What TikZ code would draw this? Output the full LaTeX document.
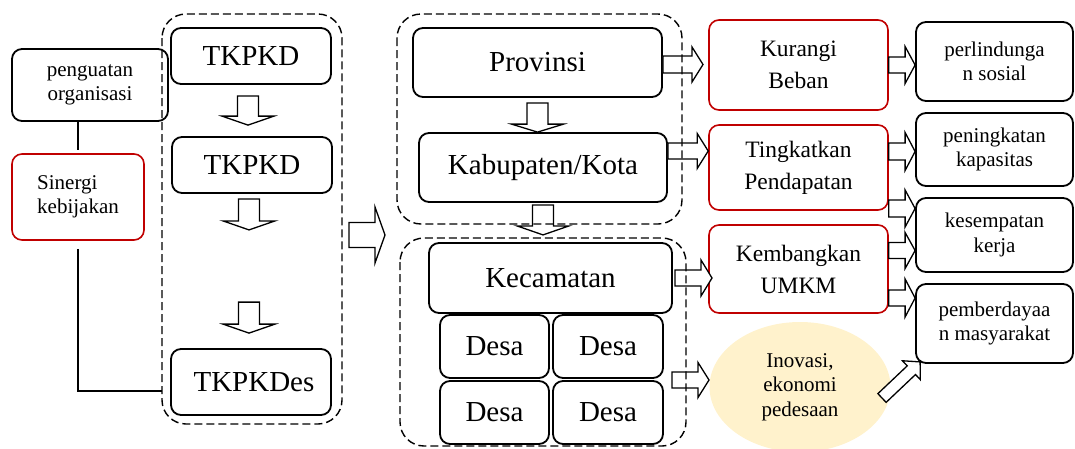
\documentclass[tikz,border=0pt]{standalone}
\usepackage{fontspec}
\setmainfont{Liberation Serif}
\usepackage{tikz}
\usetikzlibrary{calc, positioning, shapes.geometric}
\definecolor{kred}{RGB}{192,0,0}
\definecolor{kyel}{RGB}{255,242,204}

\newcommand{\bigf}{\fontsize{29}{34}\selectfont}
\newcommand{\midf}{\fontsize{23.5}{32}\selectfont}
\newcommand{\smf}{\fontsize{21}{24.5}\selectfont}

% outlined block arrow: start, end, shaft half width, head half width, head length
\newcommand{\fatarr}[5]{%
  \draw[blk] let \p1=#1, \p2=#2, \n1={atan2(\y2-\y1,\x2-\x1)}, \n2={veclen(\x2-\x1,\y2-\y1)} in
    ($(\p1)+(\n1+90:#3)$) -- ($(\p1)+(\n1:\n2-#5)+(\n1+90:#3)$)
    -- ($(\p1)+(\n1:\n2-#5)+(\n1+90:#4)$) -- (\p2)
    -- ($(\p1)+(\n1:\n2-#5)+(\n1-90:#4)$) -- ($(\p1)+(\n1:\n2-#5)+(\n1-90:#3)$)
    -- ($(\p1)+(\n1-90:#3)$) -- cycle;}

\begin{document}
\begin{tikzpicture}[x=1pt,y=-1pt]
  \tikzstyle{box}=[draw, rounded corners=10pt, line width=1.8pt, align=center, inner sep=0pt]
  \tikzstyle{redbox}=[box, draw=kred, line width=1.6pt]
  \tikzstyle{grp}=[draw, dash pattern=on 8pt off 4pt, rounded corners=24pt, line width=1.4pt]
  \tikzstyle{blk}=[draw, fill=white, line width=1.3pt, line join=miter]

  \useasboundingbox (0,0) rectangle (1075,448);

  % left column
  \node[box, font=\smf, minimum width=156pt, minimum height=72pt] (org) at (90,85) {penguatan\\organisasi};
  \node[redbox, font=\smf, align=left, minimum width=132pt, minimum height=86pt] (sin) at (78,197) {Sinergi\\kebijakan};

  \node[box, font=\bigf, minimum width=160pt, minimum height=56pt] (tk1) at (251,56) {TKPKD};
  \node[box, font=\bigf, minimum width=160pt, minimum height=56pt] (tk2) at (252,165) {TKPKD};
  \node[box, font=\bigf, minimum width=160pt, minimum height=66pt] (tkd) at (251,382) {\hspace{6pt}TKPKDes};

  % middle column
  \node[box, font=\bigf, minimum width=249pt, minimum height=69pt] (prov) at (537.5,62.5) {Provinsi};
  \node[box, font=\bigf, minimum width=248pt, minimum height=69pt] (kab) at (543,167.5) {Kabupaten/Kota};
  \node[box, font=\bigf, minimum width=243pt, minimum height=70pt] (kec) at (550.5,278) {Kecamatan};
  \node[box, font=\bigf, minimum width=109pt, minimum height=63pt] (d1) at (494.5,346.5) {Desa};
  \node[box, font=\bigf, minimum width=110pt, minimum height=63pt] (d2) at (608,346.5) {Desa};
  \node[box, font=\bigf, minimum width=109pt, minimum height=63pt] (d3) at (494.5,412.5) {Desa};
  \node[box, font=\bigf, minimum width=110pt, minimum height=63pt] (d4) at (608,412.5) {Desa};

  % programs
  \node[redbox, font=\midf, minimum width=179pt, minimum height=90pt] (kur) at (798.5,65) {Kurangi\\Beban};
  \node[redbox, font=\midf, minimum width=179pt, minimum height=85pt] (tin) at (798.5,167.5) {Tingkatkan\\Pendapatan};
  \node[redbox, font=\midf, minimum width=179pt, minimum height=88pt] (kem) at (798.5,269) {Kembangkan\\UMKM};
  \node[ellipse, fill=kyel, font=\smf, minimum width=181pt, minimum height=130pt, align=center, inner sep=0pt] (ino) at (800,387) {Inovasi,\\ekonomi\\pedesaan};

  % outcomes
  \node[box, font=\smf, minimum width=157pt, minimum height=79pt] (per) at (994.5,61.5) {perlindunga\\n sosial};
  \node[box, font=\smf, minimum width=157pt, minimum height=73pt] (pen) at (994.5,149.5) {peningkatan\\kapasitas};
  \node[box, font=\smf, minimum width=157pt, minimum height=74pt] (kes) at (994.5,235) {kesempatan\\kerja};
  \node[box, font=\smf, minimum width=157pt, minimum height=79pt] (pem) at (994.5,323.5) {pemberdayaa\\n masyarakat};

  % plain connectors
  \coordinate (jn) at (162,391);
  \draw[line width=1.5pt] (sin.north |- org.south) -- ([yshift=3pt]sin.north);
  \draw[line width=1.5pt] ([yshift=-8pt]sin.south) |- (jn);

  % block arrows
  \fatarr{([xshift=-3pt,yshift=-11pt]tk1.south)}{([xshift=-4pt,yshift=11pt]tk2.north)}{10.5pt}{26pt}{9pt}
  \fatarr{([xshift=-3pt,yshift=-5pt]tk2.south)}{([xshift=-3pt,yshift=-36pt]tk2.south)}{10.5pt}{26pt}{9pt}
  \fatarr{([xshift=-2pt,yshift=46pt]tkd.north)}{([xshift=-2pt,yshift=15pt]tkd.north)}{10.5pt}{26pt}{9pt}
  \fatarr{([yshift=-5pt]prov.south)}{(prov.south |- kab.north)}{10.5pt}{26pt}{8pt}
  \fatarr{([yshift=-2pt]kab.south)}{([yshift=-32pt]kab.south)}{10.5pt}{26pt}{9pt}
  \fatarr{(349,235)}{(385,235)}{12.5pt}{28pt}{10pt}

  \fatarr{(prov.east |- 0,64.5)}{(703,64.5)}{8.5pt}{17.5pt}{11pt}
  \fatarr{(kab.east |- 0,151)}{(tin.west |- 0,151)}{8pt}{17.5pt}{11pt}
  \fatarr{(675,278)}{(712,278)}{8pt}{18pt}{11pt}
  \fatarr{(672,380)}{(709,380)}{8pt}{17.5pt}{11pt}

  \fatarr{(kur.east |- 0,65)}{(per.west |- 0,65)}{8pt}{18.5pt}{10pt}
  \fatarr{(tin.east |- 0,151.5)}{(pen.west |- 0,151.5)}{8.5pt}{19pt}{10pt}
  \fatarr{(tin.east |- 0,208.5)}{(kes.west |- 0,208.5)}{8.5pt}{18.5pt}{10pt}
  \fatarr{(kem.east |- 0,250.5)}{(kes.west |- 0,250.5)}{8pt}{18pt}{10pt}
  \fatarr{(kem.east |- 0,298)}{(pem.west |- 0,298)}{8pt}{19pt}{10pt}
  \fatarr{(882,398)}{([xshift=5pt,yshift=2pt]pem.south west)}{6pt}{13pt}{12pt}

  % dashed groups
  \draw[grp] (162,14) rectangle (342,424);
  \draw[grp] (397,14) rectangle (682,224);
  \draw[grp] (400,238) rectangle (686,446);
\end{tikzpicture}
\end{document}
